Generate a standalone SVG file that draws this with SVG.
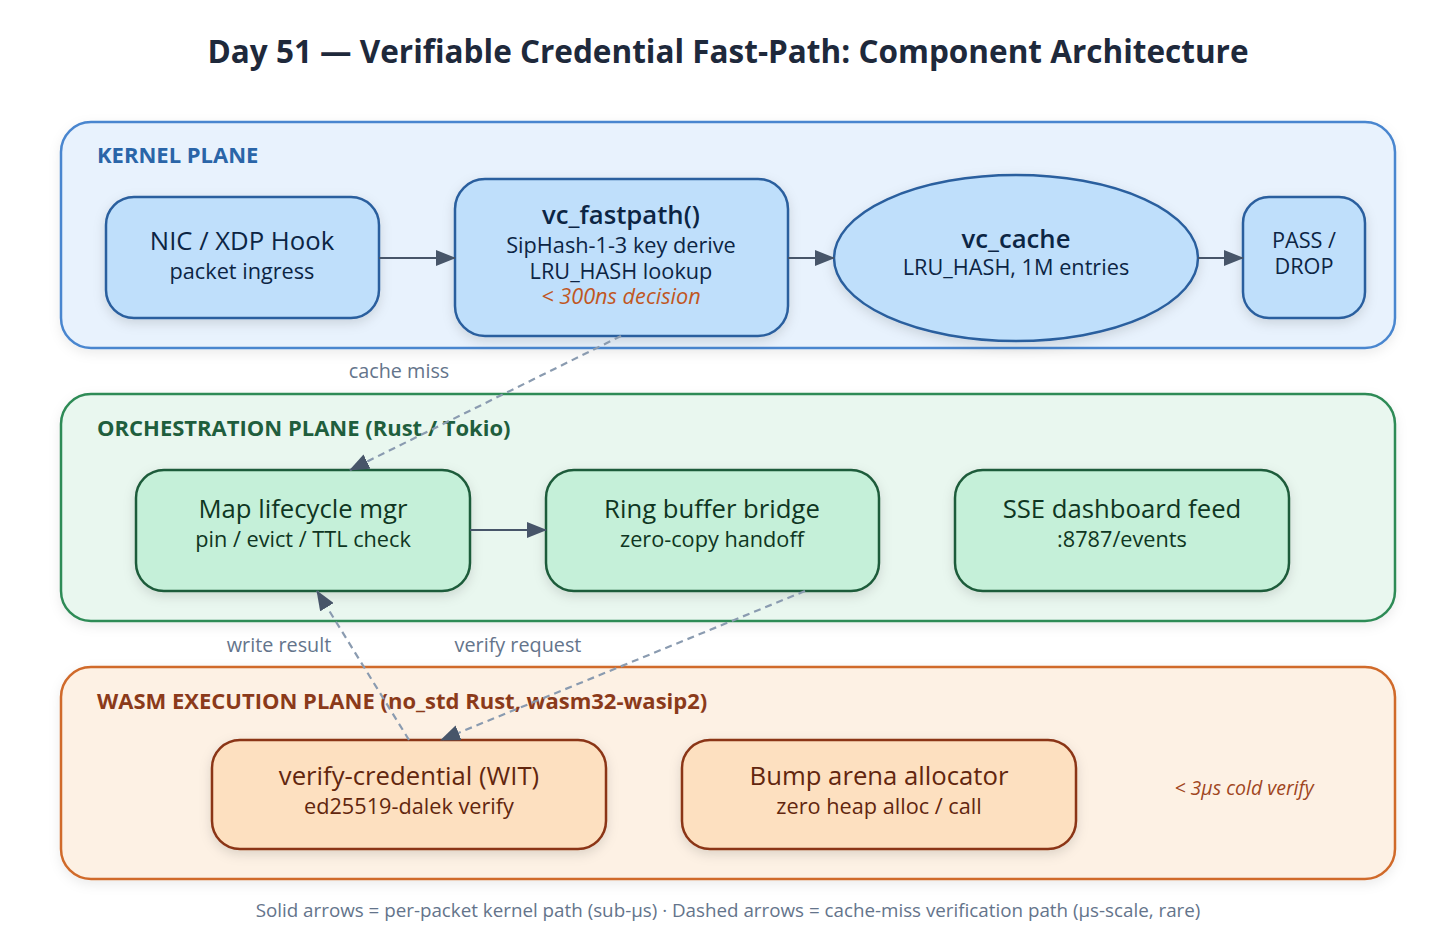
<svg xmlns="http://www.w3.org/2000/svg" width="1456" height="940" viewBox="0 0 1456 940">
<defs>
<filter id="sh" x="-20%" y="-20%" width="140%" height="150%">
<feDropShadow dx="0" dy="4" stdDeviation="6" flood-color="#000" flood-opacity="0.13"/>
</filter>
<filter id="shp" x="-5%" y="-10%" width="110%" height="130%">
<feDropShadow dx="0" dy="4" stdDeviation="6" flood-color="#000" flood-opacity="0.08"/>
</filter>
<marker id="ah" viewBox="0 0 20 16" refX="19" refY="8" markerWidth="20" markerHeight="16" markerUnits="userSpaceOnUse" orient="auto">
<path d="M0,0 L20,8 L0,16 Z" fill="#475569"/>
</marker>
<marker id="ahd" viewBox="0 0 20 16" refX="19" refY="8" markerWidth="20" markerHeight="16" markerUnits="userSpaceOnUse" orient="auto">
<path d="M0,0 L20,8 L0,16 Z" fill="#475569"/>
</marker>
</defs>
<style>
text{font-family:"Open Sans","Noto Sans","Liberation Sans",sans-serif;}
.title{font-size:31.5px;font-weight:700;fill:#1e293b;text-anchor:middle;}
.plab{font-size:22px;font-weight:700;}
.nt{font-size:25.7px;text-anchor:middle;}
.ns{font-size:21.7px;text-anchor:middle;}
.kn{fill:#bfdffb;stroke:#2a5f9e;stroke-width:2.5;}
.on{fill:#c5f0d9;stroke:#1e5b3a;stroke-width:2.5;}
.wn{fill:#fde0c0;stroke:#8b3515;stroke-width:2.5;}
.kt{fill:#0c2544;}
.ot{fill:#0f3622;}
.wt{fill:#62260e;}
.solid{stroke:#475569;stroke-width:2.2;fill:none;marker-end:url(#ah);}
.dash{stroke:#8a9bb0;stroke-width:2.2;fill:none;stroke-dasharray:7 5;marker-end:url(#ahd);}
.el{font-size:19.8px;fill:#64748b;text-anchor:middle;}
</style>
<rect width="1456" height="940" fill="#ffffff"/>
<text class="title" x="728" y="63">Day 51 — Verifiable Credential Fast-Path: Component Architecture</text>

<g id="kernel-plane">
<rect x="61" y="122" width="1334" height="226" rx="30" fill="#e8f2fd" stroke="#4a86cf" stroke-width="2.5" filter="url(#shp)"/>
<text class="plab" x="97" y="163" fill="#2a65a8">KERNEL PLANE</text>
</g>
<g id="orchestration-plane">
<rect x="61" y="394" width="1334" height="227" rx="30" fill="#e9f7ef" stroke="#2e8b57" stroke-width="2.5" filter="url(#shp)"/>
<text class="plab" x="97" y="436" fill="#1f5e3d">ORCHESTRATION PLANE (Rust / Tokio)</text>
</g>
<g id="wasm-plane">
<rect x="61" y="667" width="1334" height="212" rx="30" fill="#fdf1e4" stroke="#d06a2a" stroke-width="2.5" filter="url(#shp)"/>
<text class="plab" x="97" y="709" fill="#8b3a1a">WASM EXECUTION PLANE (no_std Rust, wasm32-wasip2)</text>
</g>

<g id="nic">
<rect class="kn" x="106" y="197" width="273" height="121" rx="28" filter="url(#sh)"/>
<text class="nt kt" x="242" y="250">NIC / XDP Hook</text>
<text class="ns kt" x="242" y="279">packet ingress</text>
</g>
<g id="vc_fastpath">
<rect class="kn" x="455" y="179" width="333" height="157" rx="30" filter="url(#sh)"/>
<text class="nt kt" x="621" y="224" font-weight="600" font-size="23">vc_fastpath()</text>
<text class="ns kt" x="621" y="253">SipHash-1-3 key derive</text>
<text class="ns kt" x="621" y="279">LRU_HASH lookup</text>
<text class="ns" x="621" y="304" fill="#c0571f" font-style="italic" font-size="21.5">&lt; 300ns decision</text>
</g>
<g id="vc_cache">
<ellipse cx="1016" cy="258" rx="182" ry="83" class="kn" filter="url(#sh)"/>
<text class="nt kt" x="1016" y="248" font-weight="600" font-size="23">vc_cache</text>
<text class="ns kt" x="1016" y="275">LRU_HASH, 1M entries</text>
</g>
<g id="pass_drop">
<rect class="kn" x="1243" y="197" width="122" height="121" rx="26" filter="url(#sh)"/>
<text class="ns kt" x="1304" y="248" font-size="21">PASS /</text>
<text class="ns kt" x="1304" y="274" font-size="17">DROP</text>
</g>

<g id="map_lifecycle">
<rect class="on" x="136" y="470" width="334" height="121" rx="28" filter="url(#sh)"/>
<text class="nt ot" x="303" y="518">Map lifecycle mgr</text>
<text class="ns ot" x="303" y="547">pin / evict / TTL check</text>
</g>
<g id="ring_buffer">
<rect class="on" x="546" y="470" width="333" height="121" rx="28" filter="url(#sh)"/>
<text class="nt ot" x="712" y="518">Ring buffer bridge</text>
<text class="ns ot" x="712" y="547">zero-copy handoff</text>
</g>
<g id="sse_feed">
<rect class="on" x="955" y="470" width="334" height="121" rx="28" filter="url(#sh)"/>
<text class="nt ot" x="1122" y="518">SSE dashboard feed</text>
<text class="ns ot" x="1122" y="547">:8787/events</text>
</g>

<g id="verify_credential">
<rect class="wn" x="212" y="740" width="394" height="109" rx="28" filter="url(#sh)"/>
<text class="nt wt" x="409" y="785">verify-credential (WIT)</text>
<text class="ns wt" x="409" y="814">ed25519-dalek verify</text>
</g>
<g id="bump_arena">
<rect class="wn" x="682" y="740" width="394" height="109" rx="28" filter="url(#sh)"/>
<text class="nt wt" x="879" y="785">Bump arena allocator</text>
<text class="ns wt" x="879" y="814">zero heap alloc / call</text>
</g>
<text x="1244" y="795" font-size="19.5" font-style="italic" fill="#a0461e" text-anchor="middle">&lt; 3µs cold verify</text>

<g id="connectors">
<line class="solid" x1="379" y1="258" x2="455" y2="258"/>
<line class="solid" x1="788" y1="258" x2="834" y2="258"/>
<line class="solid" x1="1198" y1="258" x2="1243" y2="258"/>
<line class="solid" x1="470" y1="530" x2="546" y2="530"/>
<line class="dash" x1="621" y1="336" x2="350" y2="470"/>
<line class="dash" x1="409" y1="740" x2="317" y2="591"/>
<line class="dash" x1="805" y1="591" x2="441" y2="740"/>
<text class="el" x="399" y="378">cache miss</text>
<text class="el" x="279" y="652">write result</text>
<text class="el" x="518" y="652">verify request</text>
</g>

<text x="728" y="917" font-size="18.8" fill="#64748b" text-anchor="middle">Solid arrows = per-packet kernel path (sub-µs) · Dashed arrows = cache-miss verification path (µs-scale, rare)</text>
</svg>
